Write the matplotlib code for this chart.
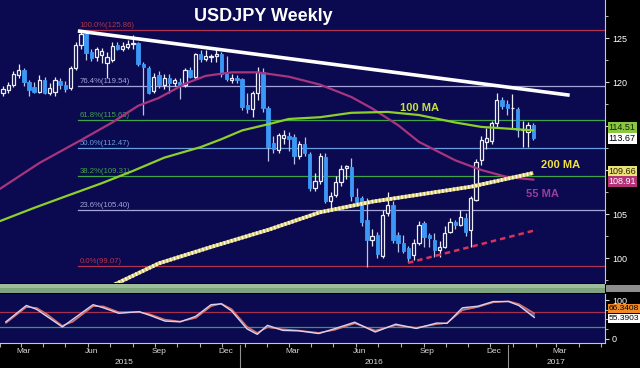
import matplotlib
matplotlib.use("Agg")
import matplotlib.pyplot as plt
import matplotlib.transforms as mtransforms
from matplotlib.patches import Rectangle
import numpy as np
import pandas as pd

plt.rcParams['font.family'] = ['Liberation Sans', 'DejaVu Sans']

# weekly USDJPY candles, week of 16 Feb 2015 .. week of 30 Jan 2017
first_week = pd.Timestamp('2015-02-16')
opens = [118.8, 119.1, 119.7, 120.8, 121.4, 120.0, 119.4, 118.9, 120.2, 118.8,
         118.9, 120.1, 119.7, 119.3, 121.6, 124.2, 125.5, 123.4, 122.8, 123.1,
         122.2, 122.5, 124.2, 123.8, 124.0, 124.3, 124.4, 122.0, 121.6, 119.0,
         120.8, 119.7, 120.5, 119.9, 120.0, 119.7, 121.4, 120.6, 123.2, 122.6,
         122.8, 122.9, 123.2, 121.1, 120.2, 120.5, 120.3, 117.4, 116.9, 118.7,
         121.1, 117.0, 113.1, 112.3, 113.6, 113.9, 113.8, 111.6, 113.0, 111.8,
         107.9, 108.7, 111.5, 106.5, 107.2, 108.6, 110.2, 110.3, 106.9, 106.8,
         104.3, 102.1, 102.6, 100.2, 105.1, 106.0, 102.6, 101.7, 101.1, 100.3,
         101.7, 104.0, 102.6, 102.1, 100.9, 101.2, 103.0, 104.1, 103.8, 104.6,
         103.2, 106.6, 111.1, 113.2, 113.3, 115.3, 117.9, 117.5, 117.0, 116.9,
         114.5, 114.3, 115.1]
highs = [119.6, 120.0, 121.3, 122.0, 121.6, 120.2, 120.0, 120.8, 120.6, 119.9,
         120.6, 120.5, 120.1, 121.8, 124.6, 125.86, 125.7, 123.8, 124.0, 123.9,
         123.4, 124.5, 124.6, 124.5, 124.8, 125.3, 124.6, 122.3, 121.8, 121.0,
         121.3, 120.9, 120.9, 120.5, 120.4, 121.6, 121.7, 123.3, 123.6, 123.6,
         123.2, 123.7, 123.4, 123.0, 120.9, 120.8, 120.5, 118.8, 119.0, 121.7,
         121.6, 117.3, 113.9, 114.2, 114.6, 114.3, 114.1, 113.3, 113.8, 112.0,
         109.7, 111.9, 111.9, 107.5, 109.3, 110.6, 110.6, 111.4, 107.9, 107.0,
         106.8, 103.3, 103.0, 105.4, 107.5, 106.5, 102.9, 102.6, 101.4, 102.2,
         104.2, 104.2, 102.8, 102.8, 101.9, 103.6, 104.6, 104.3, 105.5, 105.1,
         107.0, 111.2, 113.9, 114.8, 115.6, 118.7, 118.3, 118.0, 118.6, 117.2,
         115.6, 115.4, 115.3]
lows = [118.4, 118.8, 119.4, 120.5, 119.6, 118.4, 118.7, 118.7, 118.6, 118.5,
        118.4, 119.2, 118.9, 119.1, 121.4, 123.8, 122.5, 122.4, 122.4, 122.2,
        120.5, 122.3, 123.6, 123.5, 123.7, 123.8, 121.8, 116.2, 118.6, 118.7,
        119.3, 119.2, 118.8, 119.5, 118.1, 119.4, 120.4, 120.3, 122.3, 122.4,
        122.3, 122.3, 120.6, 120.1, 119.9, 119.9, 116.8, 116.5, 116.0, 118.0,
        116.6, 111.0, 111.9, 111.9, 112.9, 112.2, 110.7, 111.3, 111.6, 107.6,
        107.6, 108.4, 106.3, 105.6, 106.9, 108.2, 109.0, 106.5, 106.1, 103.6,
        99.0, 101.4, 100.0, 100.0, 104.8, 101.7, 100.7, 100.6, 99.55, 99.8,
        101.5, 101.2, 101.3, 100.1, 100.1, 101.1, 102.8, 103.3, 103.6, 102.5,
        101.3, 106.5, 110.6, 112.4, 112.9, 114.9, 116.9, 116.3, 114.8, 113.8,
        112.6, 112.6, 113.4]
closes = [119.2, 119.7, 120.9, 121.4, 120.0, 119.1, 118.9, 120.2, 118.8, 119.3,
          120.2, 119.7, 119.2, 121.6, 124.2, 125.5, 123.3, 122.7, 123.8, 123.5,
          122.8, 124.1, 123.8, 124.1, 124.3, 124.4, 122.0, 121.7, 118.8, 120.6,
          119.7, 120.5, 119.9, 120.2, 119.6, 121.4, 120.6, 123.2, 122.6, 122.9,
          123.0, 123.2, 120.9, 120.3, 120.4, 120.2, 117.2, 116.9, 118.8, 121.1,
          117.0, 112.6, 112.4, 114.0, 114.0, 113.5, 111.6, 113.0, 111.9, 107.9,
          108.8, 111.6, 106.5, 107.1, 108.6, 110.1, 110.4, 107.0, 106.4, 104.1,
          102.1, 102.5, 100.4, 104.9, 106.0, 102.0, 101.7, 100.8, 100.0, 101.7,
          103.7, 102.4, 102.3, 100.9, 101.2, 102.8, 104.1, 103.8, 104.7, 103.0,
          106.8, 110.9, 113.4, 113.6, 115.3, 117.9, 117.3, 117.0, 117.1, 114.6,
          114.6, 115.1, 113.67]

# moving averages read at a handful of weeks (week index)
ma100_wk = [-1, 6, 12, 19, 25, 31, 38, 42, 46, 51, 55, 61, 67, 74, 80, 87, 92, 102]
ma100 = [104.1, 105.7, 107.0, 108.5, 109.9, 111.4, 112.6, 113.5, 114.5, 115.2,
         115.8, 116.0, 116.5, 116.6, 116.25, 115.4, 114.9, 114.51]
ma55_wk = [-1, 7, 15, 21, 26, 30, 35, 39, 44, 49, 55, 61, 67, 71, 76, 80, 87, 92, 97, 102]
ma55 = [107.7, 110.8, 113.4, 115.4, 117.3, 118.2, 119.8, 120.7, 121.1, 121.1,
        120.6, 119.7, 118.3, 117.0, 115.1, 113.2, 111.1, 110.0, 109.2, 108.91]
ma200_wk = [19, 30, 40, 51, 61, 71, 80, 90, 102]
ma200 = [96.3, 99.4, 101.25, 103.2, 105.2, 106.4, 107.2, 108.1, 109.66]

fib_levels = [125.86, 119.54, 115.63, 112.47, 109.31, 105.40, 99.07]
fib_pcts = ['100.0%', '76.4%', '61.8%', '50.0%', '38.2%', '23.6%', '0.0%']
fib_colors = ['#b0344e', '#a4a4d8', '#3fa54a', '#6a9ee0', '#3fa54a', '#a4a4d8', '#b0344e']

trend_wk = [14.4, 109]
trend_val = [125.8, 118.5]
support_wk = [77.9, 102.7]
support_val = [99.45, 103.2]

# slow stochastic, read at a handful of weeks
stoch_wk = [-1, 3, 5, 7, 10, 12, 16, 18, 21, 25, 27, 30, 33, 36, 39, 41, 43, 46,
            48, 50, 53, 56, 60, 63, 67, 71, 75, 79, 83, 85, 88, 91, 94, 97, 99, 102]
stoch_k = [44, 86, 76, 58, 31, 50, 88, 80, 66, 70, 61, 46, 44, 58, 88, 90, 72, 26,
           12, 35, 22, 21, 14, 26, 43, 18, 38, 27, 41, 40, 80, 84, 96, 96, 86, 55.39]
stoch_d = [41, 82, 80, 64, 34, 44, 84, 84, 69, 69, 64, 50, 45, 54, 84, 91, 77, 32,
           16, 30, 25, 22, 16, 23, 40, 22, 35, 29, 38, 41, 74, 82, 94, 97, 90, 66]

BG = '#0b0a50'
UP = '#ececf4'
DN = '#3c98f6'
GRID_TXT = '#d8d8d8'

fig = plt.figure(figsize=(6.4, 3.68), dpi=100, facecolor='black')
W = 605 / 640
ax = fig.add_axes([0, 1 - 283 / 368, W, 283 / 368], facecolor=BG)
band = fig.add_axes([0, 1 - 293 / 368, W, 9 / 368], facecolor='#7ea37e')
low = fig.add_axes([0, 1 - 343 / 368, W, 49 / 368], facecolor=BG)

xmin, xmax = -0.58, 115.8

# ---- main pane ----
wk = np.arange(len(opens))
o = np.array(opens)
c = np.array(closes)
hi = np.array(highs)
lo = np.array(lows)
up = c >= o
b_lo = np.minimum(o, c)
b_h = np.maximum(np.abs(c - o), 0.07)

for lvl, pct, col in zip(fib_levels, fib_pcts, fib_colors):
    ax.plot([trend_wk[0], xmax], [lvl, lvl], color=col, lw=0.9, zorder=1)
    ax.text(trend_wk[0] + 0.3, lvl + 0.12, f'{pct}({lvl:.2f})', color=col,
            fontsize=5.6, ha='left', va='bottom', zorder=1)

ax.vlines(wk[up], lo[up], hi[up], color=UP, lw=0.9, zorder=2)
ax.vlines(wk[~up], lo[~up], hi[~up], color='#b8c4e4', lw=0.9, zorder=2)
ax.bar(wk[up], b_h[up], bottom=b_lo[up], width=0.62, facecolor=BG,
       edgecolor=UP, linewidth=0.9, zorder=3)
ax.bar(wk[~up], b_h[~up], bottom=b_lo[~up], width=0.66, facecolor=DN,
       edgecolor=DN, linewidth=0.6, zorder=3)

ax.plot(ma55_wk, ma55, color='#a8347e', lw=1.6, zorder=4)
ax.plot(ma100_wk, ma100, color='#8ed02a', lw=1.6, zorder=4)
ax.plot(ma200_wk, ma200, color='#d8cc70', lw=2.7, solid_capstyle='butt', zorder=4)
ax.plot(ma200_wk, ma200, color='#fffbe8', lw=2.7, dashes=(0.4, 0.6), zorder=4)
ax.plot(trend_wk, trend_val, color='white', lw=2.6, solid_capstyle='butt', zorder=5)
ax.plot(support_wk, support_val, color='#d8345a', lw=1.8, dashes=(2.2, 1.6), zorder=5)

ax.text(80.2, 117.05, '100 MA', color='#c6e03c', fontsize=8, fontweight='bold',
        ha='center', va='center', zorder=6)
ax.text(107.3, 110.57, '200 MA', color='#f2e23c', fontsize=8, fontweight='bold',
        ha='center', va='center', zorder=6)
ax.text(103.7, 107.27, '55 MA', color='#9c3c9c', fontsize=8, fontweight='bold',
        ha='center', va='center', zorder=6)
ax.text(0.435, 0.943, 'USDJPY Weekly', transform=ax.transAxes, color='white',
        fontsize=13, fontweight='bold', ha='center', va='center')

ax.set_xlim(xmin, xmax)
ax.set_ylim(97.16, 129.32)
ax.set_xticks([])
ax.yaxis.tick_right()
# 110 and 115 sit under the value tags, as on the original
ax.set_yticks([100, 105, 110, 115, 120, 125], ['100', '105', '', '', '120', '125'])
ax.set_yticks(np.arange(97.5, 129, 2.5), minor=True)
ax.tick_params(axis='y', which='major', colors=GRID_TXT, labelsize=6.5, length=3,
               pad=2, labelcolor='white')
ax.tick_params(axis='y', which='minor', colors=GRID_TXT, length=2)
for s in ['top', 'left', 'bottom']:
    ax.spines[s].set_visible(False)
ax.spines['right'].set_color('#c8c8c8')
ax.spines['right'].set_linewidth(0.8)

ytrans = mtransforms.blended_transform_factory(ax.transAxes, ax.transData)
def tag(axis, trans, y, txt, fc, tc, size=6.5):
    axis.text(1.006, y, txt, transform=trans, fontsize=size, color=tc, ha='left',
              va='center', clip_on=False, zorder=10,
              bbox=dict(boxstyle='square,pad=0.12', fc=fc, ec='none'))

tag(ax, ytrans, 114.78, '114.51', '#8cc63f', '#0a2a0a')
tag(ax, ytrans, 113.6, '113.67', 'white', 'black')
tag(ax, ytrans, 109.85, '109.66', '#ece27a', '#202000')
tag(ax, ytrans, 108.67, '108.91', '#b43278', 'white')

# ---- separator band ----
band.set_xlim(xmin, xmax)
band.set_ylim(0, 1)
band.axhspan(0.55, 1.0, color='#9dbd9a', lw=0)
band.set_xticks([])
band.set_yticks([])
for s in band.spines.values():
    s.set_visible(False)
fig.patches.append(Rectangle((606 / 640, 1 - 292 / 368), 34 / 640, 7 / 368,
                             transform=fig.transFigure, facecolor='#8e8e8e',
                             edgecolor='none'))

# ---- stochastic pane ----
low.axhline(70, color='#a8304c', lw=0.9)
low.axhline(30, color='#3a9a5c', lw=0.9)
low.fill_between(stoch_wk, stoch_k, stoch_d, color='#98aee0', alpha=0.55, lw=0)
low.plot(stoch_wk, stoch_d, color='#e0705a', lw=1.0)
low.plot(stoch_wk, stoch_k, color='#d8d0f2', lw=1.0)
low.set_xlim(xmin, xmax)
low.set_ylim(-10.3, 115.4)
low.yaxis.tick_right()
low.set_yticks([0, 100])
low.set_yticks([25, 50, 75], minor=True)
low.tick_params(axis='y', which='major', colors=GRID_TXT, labelsize=6.5, length=3,
                pad=2, labelcolor='white')
low.tick_params(axis='y', which='minor', colors=GRID_TXT, length=2)
low.spines['top'].set_visible(False)
low.spines['left'].set_visible(False)
low.spines['right'].set_color('#c8c8c8')
low.spines['bottom'].set_color('#c8c8c8')
low.spines['right'].set_linewidth(0.8)
low.spines['bottom'].set_linewidth(0.8)

strans = mtransforms.blended_transform_factory(low.transAxes, low.transData)
tag(low, strans, 79, '66.3408', '#f08a24', 'black', size=6)
tag(low, strans, 53, '55.3903', 'white', 'black', size=6)

# month ticks and labels
months = pd.date_range('2015-02-01', '2017-05-01', freq='MS')
month_wk = [(m - first_week).days / 7 for m in months]
low.set_xticks(month_wk)
low.set_xticklabels([])
low.tick_params(axis='x', colors='#b0b0b0', length=3, width=0.8)
xtrans = mtransforms.blended_transform_factory(low.transData, low.transAxes)
for m, w in zip(months, month_wk):
    if m.month in (3, 6, 9, 12) and xmin < w < xmax:
        low.text(w + 0.7, -0.18, m.strftime('%b'), transform=xtrans, color=GRID_TXT,
                 fontsize=6, ha='center', va='center', clip_on=False)

year_breaks = [(pd.Timestamp(f'{y}-01-01') - first_week).days / 7 - 1 for y in (2016, 2017)]
edges = [xmin] + year_breaks + [xmax]
for yr, a, b in zip(['2015', '2016', '2017'], edges[:-1], edges[1:]):
    low.text((a + b) / 2, -0.39, yr, transform=xtrans, color=GRID_TXT, fontsize=6,
             ha='center', va='center', clip_on=False)
for yb in year_breaks:
    low.plot([yb, yb], [-0.05, -0.5], transform=xtrans, color='#909090', lw=0.8,
             clip_on=False)

fig.savefig('out.png', dpi=100, facecolor='black')
